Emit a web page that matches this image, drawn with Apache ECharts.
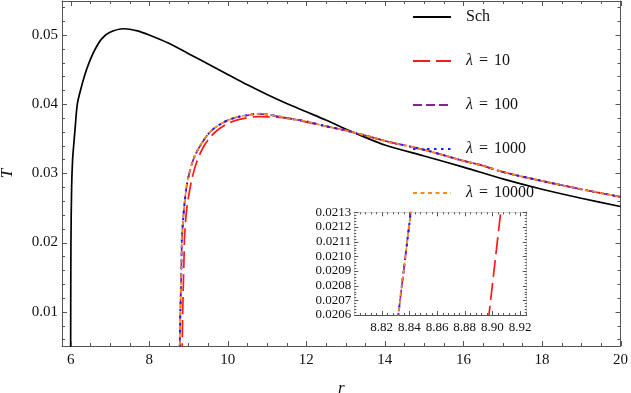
<!DOCTYPE html>
<html><head><meta charset="utf-8">
<script src="https://cdn.jsdelivr.net/npm/echarts@6/dist/echarts.min.js"></script>
<style>html,body{margin:0;padding:0;background:#fff}#c{width:631px;height:393px}</style>
</head><body><div id="c"></div>
<script>
// ---- data ----
const seriesNames = ['Sch', 'λ = 10', 'λ = 100', 'λ = 1000', 'λ = 10000'];

const rSch = [6.0, 6.002, 6.008, 6.025, 6.05, 6.08, 6.11, 6.17, 6.26, 6.36, 6.47, 6.62, 6.80, 7.0, 7.35, 7.7, 8.0, 8.5, 9.0, 9.5, 10.0, 10.5, 11.0, 11.5, 12.0, 12.5, 13.0, 13.5, 14.0, 15.0, 16.0, 17.0, 18.0, 19.0, 20.0];
const TSch = [0.003, 0.010, 0.020, 0.028, 0.032, 0.0342, 0.0362, 0.0400, 0.0422, 0.0442, 0.0460, 0.0479, 0.0495, 0.0504, 0.0509, 0.0506, 0.0500, 0.0488, 0.0473, 0.0458, 0.0443, 0.0428, 0.0414, 0.0401, 0.0389, 0.0377, 0.0364, 0.0352, 0.0341, 0.0325, 0.0309, 0.0292, 0.0277, 0.0264, 0.0252];

const r10 = [8.835, 8.85, 8.87, 8.888, 8.8975, 8.906, 8.925, 8.97, 9.03, 9.08, 9.20, 9.37, 9.55, 9.75, 10.0, 10.3, 10.77, 11.32, 11.75, 12.0, 12.43, 13.0, 13.28, 14.0, 14.13, 15.0, 16.0, 16.5, 17.0, 18.0, 19.0, 20.0];
const T10 = [0.003, 0.009, 0.014, 0.018, 0.0206, 0.0213, 0.0230, 0.0255, 0.0275, 0.0290, 0.0315, 0.0337, 0.0352, 0.0363, 0.0372, 0.0378, 0.0382, 0.0381, 0.0378, 0.0374, 0.0369, 0.0362, 0.0358, 0.0347, 0.0345, 0.0334, 0.0318, 0.0311, 0.0302, 0.0289, 0.0277, 0.0266];

const r100 = [8.775, 8.79, 8.81, 8.825, 8.832, 8.841, 8.86, 8.90, 8.95, 9.00, 9.10, 9.20, 9.29, 9.45, 9.63, 9.90, 10.22, 10.5, 10.77, 11.0, 11.32, 11.58, 12.0, 12.43, 13.0, 13.28, 14.0, 14.13, 15.0, 16.0, 16.5, 17.0, 18.0, 19.0, 20.0];
const T100 = [0.003, 0.009, 0.014, 0.018, 0.0206, 0.0213, 0.0230, 0.0257, 0.0280, 0.0295, 0.0316, 0.0330, 0.0339, 0.0353, 0.0364, 0.0374, 0.0381, 0.0384, 0.0386, 0.0385, 0.0382, 0.0379, 0.0375, 0.0369, 0.0362, 0.0358, 0.0347, 0.0345, 0.0334, 0.0318, 0.0311, 0.0302, 0.0289, 0.0277, 0.0266];

const r1000 = [8.775, 8.79, 8.81, 8.825, 8.832, 8.841, 8.86, 8.90, 8.95, 9.00, 9.10, 9.20, 9.29, 9.45, 9.63, 9.90, 10.22, 10.5, 10.77, 11.0, 11.32, 11.58, 12.0, 12.43, 13.0, 13.28, 14.0, 14.13, 15.0, 16.0, 16.5, 17.0, 18.0, 19.0, 20.0];
const T1000 = [0.003, 0.009, 0.014, 0.018, 0.0206, 0.0213, 0.0230, 0.0257, 0.0280, 0.0295, 0.0316, 0.0330, 0.0339, 0.0353, 0.0364, 0.0374, 0.0381, 0.0384, 0.0386, 0.0385, 0.0382, 0.0379, 0.0375, 0.0369, 0.0362, 0.0358, 0.0347, 0.0345, 0.0334, 0.0318, 0.0311, 0.0302, 0.0289, 0.0277, 0.0266];

const r10000 = [8.775, 8.79, 8.81, 8.825, 8.832, 8.841, 8.86, 8.90, 8.95, 9.00, 9.10, 9.20, 9.29, 9.45, 9.63, 9.90, 10.22, 10.5, 10.77, 11.0, 11.32, 11.58, 12.0, 12.43, 13.0, 13.28, 14.0, 14.13, 15.0, 16.0, 16.5, 17.0, 18.0, 19.0, 20.0];
const T10000 = [0.003, 0.009, 0.014, 0.018, 0.0206, 0.0213, 0.0230, 0.0257, 0.0280, 0.0295, 0.0316, 0.0330, 0.0339, 0.0353, 0.0364, 0.0374, 0.0381, 0.0384, 0.0386, 0.0385, 0.0382, 0.0379, 0.0375, 0.0369, 0.0362, 0.0358, 0.0347, 0.0345, 0.0334, 0.0318, 0.0311, 0.0302, 0.0289, 0.0277, 0.0266];

// tick labels
const xMajorTicks = [6, 8, 10, 12, 14, 16, 18, 20];
const yMajorTicks = [0.01, 0.02, 0.03, 0.04, 0.05];
const insetXTicks = [8.82, 8.84, 8.86, 8.88, 8.90, 8.92];
const insetYTicks = [0.0206, 0.0207, 0.0208, 0.0209, 0.0210, 0.0211, 0.0212, 0.0213];

// ---- layout ----
const FRAME = '#555';
const SERIF = '"Liberation Serif", "DejaVu Serif", serif';
const XMIN = 5.78, XMAX = 20, YMIN = 0.00504, YMAX = 0.05491;
const IXMIN = 8.8002, IXMAX = 8.9248, IYMIN = 0.0206, IYMAX = 0.0213;

function minorBetween(major, sub, lo, hi) {
  const step = (major[1] - major[0]) / sub;
  const out = [];
  const start = major[0] - Math.ceil((major[0] - lo) / step - 1e-9) * step;
  for (let k = 0; k < 2000; k++) {
    const v = start + k * step;
    if (v > hi + step * 1e-6) break;
    if (v < lo - step * 1e-6) continue;
    if (!major.some(m => Math.abs(m - v) < step * 0.01)) out.push(v);
  }
  return out;
}
const pts = (xs, ys) => xs.map((x, i) => [x, ys[i]]);

function labelAxis(o) {
  return {
    type: 'value', gridIndex: o.grid, position: o.pos, min: o.min, max: o.max,
    axisLine: { show: true, onZero: false, lineStyle: { color: FRAME, width: 1 } },
    axisTick: { show: false },
    axisLabel: o.fmt ? { show: true, customValues: o.ticks, formatter: o.fmt, fontFamily: SERIF, fontSize: o.fs, color: '#111', margin: o.margin } : { show: false },
    splitLine: { show: false }, minorTick: { show: false },
    name: o.name || '', nameLocation: 'middle', nameGap: o.nameGap || 0,
    nameTextStyle: { fontFamily: SERIF, fontStyle: 'italic', fontSize: 17, color: '#111' }
  };
}

const xAxes = [
  labelAxis({ grid: 0, pos: 'bottom', min: XMIN, max: XMAX, ticks: xMajorTicks, fmt: v => String(v), fs: 15, margin: 7, name: 'r', nameGap: 34 }),
  labelAxis({ grid: 0, pos: 'top', min: XMIN, max: XMAX }),
  labelAxis({ grid: 1, pos: 'bottom', min: IXMIN, max: IXMAX, ticks: insetXTicks, fmt: v => v.toFixed(2), fs: 13, margin: 6 }),
  labelAxis({ grid: 1, pos: 'top', min: IXMIN, max: IXMAX })
];
const yAxes = [
  labelAxis({ grid: 0, pos: 'left', min: YMIN, max: YMAX, ticks: yMajorTicks, fmt: v => v.toFixed(2), fs: 15, margin: 4, name: 'T', nameGap: 46 }),
  labelAxis({ grid: 0, pos: 'right', min: YMIN, max: YMAX }),
  labelAxis({ grid: 1, pos: 'left', min: IYMIN, max: IYMAX, ticks: insetYTicks, fmt: v => v.toFixed(4), fs: 13, margin: 3 }),
  labelAxis({ grid: 1, pos: 'right', min: IYMIN, max: IYMAX })
];

// inset frame ticks (custom series through the inset axes' scales)
function tickSeries(axisIdx, orient, values, len, midX, midY) {
  const data = values.map(v => orient === 'x' ? [v, midY, len] : [midX, v, len]);
  return {
    type: 'custom', xAxisIndex: axisIdx, yAxisIndex: axisIdx, silent: true, clip: false, z: 30,
    encode: { x: 0, y: 1 },
    data: data,
    renderItem: (params, api) => {
      const cs = params.coordSys;
      const p = api.coord([api.value(0), api.value(1)]);
      const L = api.value(2);
      const st = { stroke: FRAME, lineWidth: 1 };
      if (orient === 'x') {
        const x = Math.round(p[0]) + 0.5;
        return { type: 'group', children: [
          { type: 'line', shape: { x1: x, y1: cs.y + cs.height, x2: x, y2: cs.y + cs.height - L }, style: st },
          { type: 'line', shape: { x1: x, y1: cs.y, x2: x, y2: cs.y + L }, style: st }
        ] };
      }
      const y = Math.round(p[1]) + 0.5;
      return { type: 'group', children: [
        { type: 'line', shape: { x1: cs.x, y1: y, x2: cs.x + L, y2: y }, style: st },
        { type: 'line', shape: { x1: cs.x + cs.width, y1: y, x2: cs.x + cs.width - L, y2: y }, style: st }
      ] };
    }
  };
}

const styles = [
  { color: '#000000', width: 1.7, type: 'solid' },
  { color: '#ff1a1a', width: 1.7, type: [17, 6] },
  { color: '#8a1f99', width: 1.7, type: [9, 4] },
  { color: '#1a1aff', width: 2, type: [2.5, 4.5] },
  { color: '#ff8c1a', width: 1.7, type: [4, 3.5] }
];
const datasets = [pts(rSch, TSch), pts(r10, T10), pts(r100, T100), pts(r1000, T1000), pts(r10000, T10000)];

const series = [];
datasets.forEach((d, i) => {
  series.push({
    name: seriesNames[i], type: 'line', data: d, xAxisIndex: 0, yAxisIndex: 0,
    showSymbol: false, symbol: 'none', clip: true, smooth: 0.3,
    lineStyle: { color: styles[i].color, width: styles[i].width, type: styles[i].type },
    itemStyle: { color: styles[i].color }, z: 2 + i, silent: true
  });
});
for (let i = 1; i < datasets.length; i++) {
  series.push({
    name: seriesNames[i], type: 'line', data: datasets[i], xAxisIndex: 2, yAxisIndex: 2,
    showSymbol: false, symbol: 'none', clip: true,
    lineStyle: { color: styles[i].color, width: styles[i].width, type: styles[i].type },
    itemStyle: { color: styles[i].color }, z: 20 + i, silent: true
  });
}
series.push(tickSeries(2, 'x', insetXTicks, 4, 8.86, 0.021));
series.push(tickSeries(2, 'x', minorBetween(insetXTicks, 5, IXMIN, IXMAX), 2, 8.86, 0.021));
series.push(tickSeries(2, 'y', insetYTicks, 4, 8.86, 0.021));
series.push(tickSeries(2, 'y', minorBetween(insetYTicks, 5, IYMIN, IYMAX), 2, 8.86, 0.021));

const chart = echarts.init(document.getElementById('c'), null, { renderer: 'canvas' });
chart.setOption({
  animation: false,
  backgroundColor: '#ffffff',
  grid: [
    { left: 62, top: 1, width: 558.5, height: 345, containLabel: false, outerBoundsMode: 'none' },
    { left: 354.3, top: 212.3, width: 172.4, height: 102.7, containLabel: false, outerBoundsMode: 'none', show: true, backgroundColor: '#ffffff', borderWidth: 0, z: 10 }
  ],
  xAxis: xAxes,
  yAxis: yAxes,
  legend: {
    orient: 'vertical', left: 412, top: 9, padding: 0, itemWidth: 38, itemHeight: 14, itemGap: 28,
    data: seriesNames, selectedMode: false,
    itemStyle: { opacity: 0, borderWidth: 0 },
    textStyle: {
      fontFamily: SERIF, fontSize: 16, color: '#111', padding: [0, 0, 0, 10],
      rich: {
        it: { fontFamily: SERIF, fontStyle: 'italic', fontSize: 16, color: '#111' },
        eq: { fontFamily: SERIF, fontSize: 16, color: '#111', padding: [0, 6, 0, 6] }
      }
    },
    formatter: n => n.startsWith('λ') ? '{it|λ}{eq|=}' + n.replace(/^λ = /, '') : n
  },
  series: series
});

// main frame ticks: positions converted through the main axes' scales
(function addMainTicks() {
  const toPx = (x, y) => chart.convertToPixel({ xAxisIndex: 0, yAxisIndex: 0 }, [x, y]);
  const lo = toPx(XMIN, YMIN), hi = toPx(XMAX, YMAX);
  const left = lo[0], bottom = lo[1], right = hi[0], top = hi[1];
  const els = [];
  const st = { stroke: FRAME, lineWidth: 1 };
  const addX = (v, len) => {
    const x = Math.round(toPx(v, 0.03)[0]) + 0.5;
    els.push({ type: 'line', silent: true, z: 100, shape: { x1: x, y1: bottom, x2: x, y2: bottom - len }, style: st });
    els.push({ type: 'line', silent: true, z: 100, shape: { x1: x, y1: top, x2: x, y2: top + len }, style: st });
  };
  const addY = (v, len) => {
    const y = Math.round(toPx(12, v)[1]) + 0.5;
    els.push({ type: 'line', silent: true, z: 100, shape: { x1: left, y1: y, x2: left + len, y2: y }, style: st });
    els.push({ type: 'line', silent: true, z: 100, shape: { x1: right, y1: y, x2: right - len, y2: y }, style: st });
  };
  xMajorTicks.forEach(v => addX(v, 5));
  minorBetween(xMajorTicks, 4, XMIN, XMAX).forEach(v => addX(v, 3));
  yMajorTicks.forEach(v => addY(v, 5));
  minorBetween(yMajorTicks, 5, YMIN, YMAX).forEach(v => addY(v, 3));
  chart.setOption({ graphic: { elements: els } });
})();
</script>
</body></html>
